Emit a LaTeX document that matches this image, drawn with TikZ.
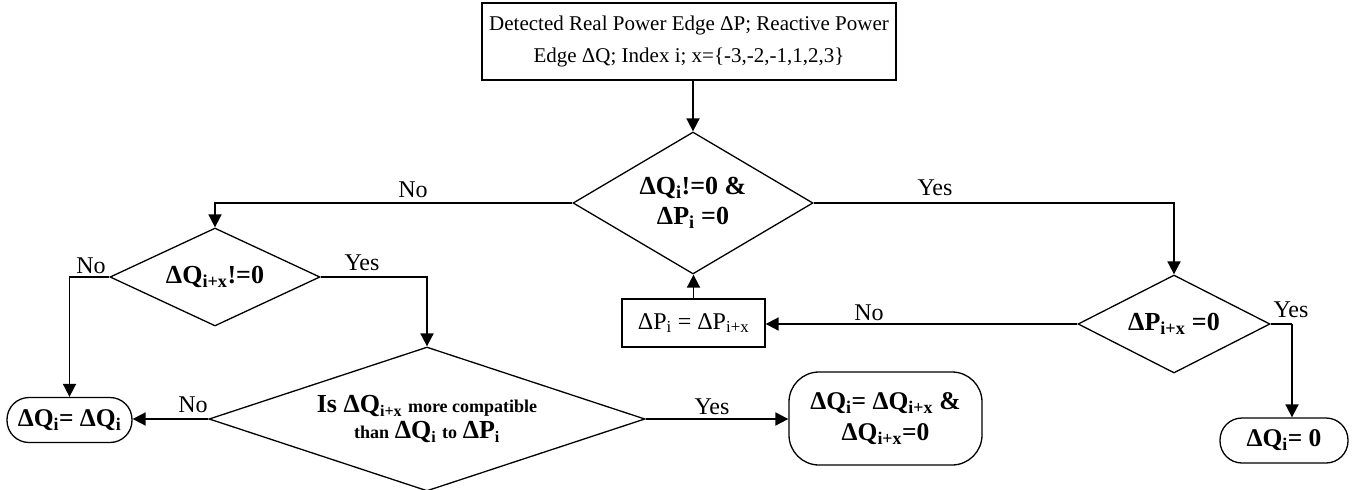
\documentclass[tikz,border=0pt]{standalone}
\usepackage{fontspec}
\setmainfont{Liberation Serif}
\usetikzlibrary{shapes.geometric,arrows.meta}
\newcommand{\lsub}[1]{\textsubscript{#1}}
\begin{document}
\begin{tikzpicture}[x=1pt,y=-1pt,
  box/.style={draw,line width=1.3pt,inner sep=0pt,align=center},
  dia/.style={draw,diamond,line width=1.3pt,inner sep=0pt,align=center,font=\bfseries\fontsize{26}{30}\selectfont},
  term/.style={draw,line width=1.3pt,inner sep=0pt,align=center,font=\bfseries\fontsize{25.5}{31}\selectfont},
  arr/.style={line width=1.8pt,-{Triangle[length=13pt,width=13pt]}},
  ln/.style={line width=1.8pt},
  lab/.style={font=\fontsize{24}{28}\selectfont,inner sep=0pt}]
\useasboundingbox (0,0) rectangle (1353,490);

\node[box,minimum width=414pt,minimum height=77pt,font=\fontsize{21}{32}\selectfont] (top) at (689,41.5)
  {Detected Real Power Edge ΔP; Reactive Power\\Edge ΔQ; Index i; x=\{-3,-2,-1,1,2,3\}};

\node[dia,aspect=1.7,minimum width=240pt,minimum height=142pt] (d1) at (693,203) {ΔQ\lsub{i}!=0 \&\\ΔP\lsub{i} =0};
\node[dia,aspect=2.1,minimum width=210pt,minimum height=98pt] (d2) at (215,277) {ΔQ\lsub{i+x}!=0};
\node[dia,aspect=3,minimum width=436pt,minimum height=144pt,font=\bfseries\fontsize{23}{26}\selectfont] (d3) at (427,419)
  {{\fontsize{26}{26}\selectfont Is ΔQ}\lsub{i+x} {\fontsize{18}{22}\selectfont more compatible}\\
   {\fontsize{18}{22}\selectfont than} {\fontsize{26}{26}\selectfont ΔQ}\lsub{i} {\fontsize{18}{22}\selectfont to} {\fontsize{26}{26}\selectfont ΔP}\lsub{i}};
\node[dia,aspect=2,minimum width=192pt,minimum height=98pt] (d4) at (1174,324) {ΔP\lsub{i+x} =0};

\node[box,minimum width=143pt,minimum height=48pt,font=\fontsize{24}{28}\selectfont] (pb) at (693.5,323) {ΔP\lsub{i} = ΔP\lsub{i+x}};

\node[term,rounded corners=22pt,minimum width=125pt,minimum height=45pt] (b1) at (69.5,420) {ΔQ\lsub{i}= ΔQ\lsub{i}};
\node[term,rounded corners=30pt,minimum width=193pt,minimum height=93pt] (b2) at (885.5,418.5) {ΔQ\lsub{i}= ΔQ\lsub{i+x} \&\\ΔQ\lsub{i+x}=0};
\node[term,rounded corners=22pt,minimum width=128pt,minimum height=45pt] (b3) at (1284,440.5) {ΔQ\lsub{i}= 0};

\node[lab] (l1) at (413,190) {No};
\node[lab] (l2) at (935,188) {Yes};
\node[lab] (l3) at (91,266) {No};
\node[lab] (l4) at (362,263) {Yes};
\node[lab] (l5) at (193,405) {No};
\node[lab] (l6) at (712,407) {Yes};
\node[lab] (l7) at (869,313) {No};
\node[lab] (l8) at (1291,310) {Yes};

\draw[arr] (top.south -| d1.north) -- (d1.north);
\draw[arr] (d1.west) -| (d2.north);
\draw[arr] (d1.east) -| (d4.north);
\draw[arr] (d2.west) -| (b1.north);
\draw[arr] (d2.east) -| (d3.north);
\draw[arr] (d3.west) -- (d3.west -| b1.east);
\draw[arr] (d3.east) -- (d3.east -| b2.west);
\draw[arr] (d4.west) -- (d4.west -| pb.east);
\draw[arr] (pb.north) -- (pb.north |- d1.south);
\coordinate (c4) at (1292,324);
\draw[ln] (d4.east) -- (c4);
\draw[arr] (c4) -- (c4 |- b3.north);
\end{tikzpicture}
\end{document}
